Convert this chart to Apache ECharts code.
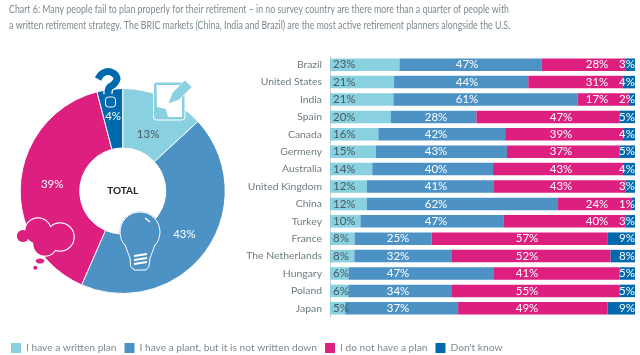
<!DOCTYPE html>
<html>
<head>
<meta charset="utf-8">
<style>html,body{margin:0;background:#fff}#chart{width:640px;height:355px}</style>
<script src="https://cdn.jsdelivr.net/npm/echarts@6/dist/echarts.min.js"></script>
</head>
<body>
<div id="chart"></div>
<script>
const countries = ['Brazil','United States','India','Spain','Canada','Germeny','Australia','United Kingdom','China','Turkey','France','The Netherlands','Hungary','Poland','Japan'];
const writtenPlan = [23,21,21,20,16,15,14,12,12,10,8,8,6,6,5];
const notWritten = [47,44,61,28,42,43,40,41,62,47,25,32,47,34,37];
const noPlan = [28,31,17,47,39,37,43,43,24,40,57,52,41,55,49];
const dontKnow = [3,4,2,5,4,5,4,3,1,3,9,8,5,5,9];
const legendNames = ['I have a written plan','I have a plant, but it is not written down','I do not have a plan',"Don't know"];
const totals = [13,43,39,4];
const titleText = 'Chart 6: Many people fail to plan properly for their retirement \u2013 in no survey country are there more than a quarter of people with\na written retirement strategy. The BRIC markets (China, India and Brazil) are the most active retirement planners alongside the U.S.';

const colors = ['#89d0e0','#4d92c5','#dd1f80','#0068ad'];
const fontName = 'Lato';
const rows = [writtenPlan, notWritten, noPlan, dontKnow];

var chartDom = document.getElementById('chart');
var myChart = echarts.init(chartDom);

// the source bars always fill the width, rounded percentages do not always add up to 100
function share(arr, i) {
  return arr[i] / (writtenPlan[i] + notWritten[i] + noPlan[i] + dontKnow[i]);
}

// labels sit in columns in the source, not in the middle of the segment
function midColumn(row) {
  if (row < 3) return 467;
  if (row < 10) return 436;
  return 398;
}
function thirdColumn(row) {
  if (row < 3 || row == 8 || row == 9) return 597;
  if (row < 8) return 561;
  return 527;
}

const barSeries = rows.map(function (arr, s) {
  return {
    name: legendNames[s],
    type: 'bar',
    stack: 'all',
    barWidth: 12.5,
    itemStyle: { color: colors[s] },
    data: arr.map(function (v, i) { return share(arr, i); }),
    label: {
      show: true,
      position: 'inside',
      fontFamily: fontName,
      fontSize: 11.5,
      color: s == 0 ? '#4a5a60' : '#fff',
      formatter: function (p) { return arr[p.dataIndex] + '%'; }
    },
    labelLayout: function (p) {
      const y = p.rect.y + p.rect.height / 2;
      if (s == 0) return { x: 333, y: y, align: 'left', verticalAlign: 'middle' };
      if (s == 1) return { x: midColumn(p.dataIndex), y: y, align: 'center', verticalAlign: 'middle' };
      if (s == 2) return { x: thirdColumn(p.dataIndex), y: y, align: 'center', verticalAlign: 'middle' };
      return { x: 635, y: y, align: 'right', verticalAlign: 'middle' };
    },
    z: 3
  };
});

const pieOffsets = [[-5, 13], [0, -1], [5, -1], [0, 0]];

const white = '#fff';
const pink = colors[2];
const blue = colors[1];
const light = colors[0];
const navy = colors[3];

// thought cloud on the pink slice
const cloudParts = [[23, 236, 6.5], [38, 231, 13], [60, 237, 14], [45, 244, 12]];
const cloudIcon = cloudParts.map(function (c) {
  return { type: 'circle', z: 5, shape: { cx: c[0], cy: c[1], r: c[2] }, style: { fill: pink, stroke: white, lineWidth: 1.5 } };
}).concat(cloudParts.map(function (c) {
  return { type: 'circle', z: 6, shape: { cx: c[0], cy: c[1], r: c[2] - 0.4 }, style: { fill: pink } };
})).concat([
  { type: 'ellipse', z: 6, shape: { cx: 40, cy: 261, rx: 4.3, ry: 2.6 }, style: { fill: pink } },
  { type: 'circle', z: 6, shape: { cx: 35.3, cy: 267.7, r: 2 }, style: { fill: pink } }
]);

const bulbIcon = [
  { type: 'circle', z: 5, shape: { cx: 140, cy: 232, r: 20.5 }, style: { fill: blue } },
  { type: 'polygon', z: 5, shape: { points: [[125, 245], [155, 245], [150, 258], [149, 266], [146, 270], [134, 270], [130.5, 266], [130, 258]] }, style: { fill: blue, stroke: white, lineWidth: 1 } },
  { type: 'circle', z: 5, shape: { cx: 140, cy: 232, r: 20 }, style: { fill: blue, stroke: white, lineWidth: 1 } },
  { type: 'polygon', z: 6, shape: { points: [[125.5, 244], [154.5, 244], [149, 258], [131, 258]] }, style: { fill: blue } },
  { type: 'line', z: 7, shape: { x1: 134, y1: 256, x2: 147, y2: 254 }, style: { stroke: white, lineWidth: 2 } },
  { type: 'line', z: 7, shape: { x1: 134, y1: 260, x2: 147, y2: 258 }, style: { stroke: white, lineWidth: 2 } },
  { type: 'line', z: 7, shape: { x1: 134, y1: 264, x2: 147, y2: 262 }, style: { stroke: white, lineWidth: 2 } },
  { type: 'line', z: 7, shape: { x1: 145, y1: 218, x2: 150, y2: 222 }, style: { stroke: white, lineWidth: 1.5 } }
];

const noteIcon = [
  { type: 'rect', z: 5, shape: { x: 153.5, y: 82, width: 31.5, height: 38, r: 3 }, style: { fill: light, stroke: white, lineWidth: 1 } },
  { type: 'polygon', z: 6, shape: { points: [[156.5, 85], [182, 85], [182, 117], [168, 117], [166, 109], [157, 107]] }, style: { fill: white } },
  { type: 'polygon', z: 7, shape: { points: [[168, 104], [172, 93], [185, 80], [192, 87], [179, 100]] }, style: { fill: light, stroke: white, lineWidth: 0.8 } }
];

const questionPts = [[98, 79], [103, 73], [111, 72], [117, 78], [114, 84], [109, 88], [108, 94]];
const questionIcon = [
  { type: 'polyline', z: 5, shape: { points: questionPts, smooth: 0.4 }, style: { stroke: white, lineWidth: 9.5, fill: 'none' } },
  { type: 'polyline', z: 6, shape: { points: questionPts, smooth: 0.4 }, style: { stroke: navy, lineWidth: 7, fill: 'none' } },
  { type: 'rect', z: 6, shape: { x: 105.5, y: 97, width: 10, height: 10, r: 3 }, style: { fill: navy, stroke: white, lineWidth: 1 } }
];

var option = {
  animation: false,
  legend: {
    left: 11,
    top: 343,
    padding: 0,
    itemWidth: 10,
    itemHeight: 10,
    itemGap: 8,
    selectedMode: false,
    icon: 'rect',
    data: legendNames,
    textStyle: { fontFamily: fontName, fontSize: 10.2, color: '#7d8b90' }
  },
  grid: { left: 330, top: 56, width: 305, height: 261 },
  xAxis: { type: 'value', min: 0, max: 1, show: false },
  yAxis: {
    type: 'category',
    inverse: true,
    data: countries,
    axisTick: { show: false },
    axisLine: { show: true, lineStyle: { color: '#c8d0d4', width: 1 } },
    axisLabel: { fontFamily: fontName, fontSize: 10.4, color: '#6d7b80', margin: 8 }
  },
  series: barSeries.concat([{
    type: 'pie',
    center: [122.7, 191],
    radius: [43, 102.5],
    startAngle: 90,
    clockwise: true,
    silent: true,
    itemStyle: { borderColor: '#fff', borderWidth: 1 },
    labelLine: { show: false },
    data: totals.map(function (v, i) {
      return {
        value: v,
        name: legendNames[i],
        itemStyle: { color: colors[i] },
        label: { color: i == 0 ? '#4a5a60' : '#fff' }
      };
    }),
    label: {
      show: true,
      position: 'inside',
      fontFamily: fontName,
      fontSize: 11.5,
      formatter: function (p) { return totals[p.dataIndex] + '%'; }
    },
    labelLayout: function (p) {
      const o = pieOffsets[p.dataIndex];
      return { dx: o[0], dy: o[1] };
    }
  }]),
  graphic: [
    // the source title is a condensed face, none is installed so squeeze Lato instead
    { type: 'text', x: 9, y: 2, scaleX: 0.8, z: 10, style: { text: titleText, font: '11px ' + fontName, fill: '#7d8b90', lineHeight: 15.5 } },
    { type: 'text', x: 122.7, y: 191, z: 10, style: { text: 'TOTAL', font: 'bold 10px ' + fontName, fill: '#222', align: 'center', verticalAlign: 'middle' } }
  ].concat(cloudIcon, bulbIcon, noteIcon, questionIcon)
};
myChart.setOption(option);
</script>
</body>
</html>
